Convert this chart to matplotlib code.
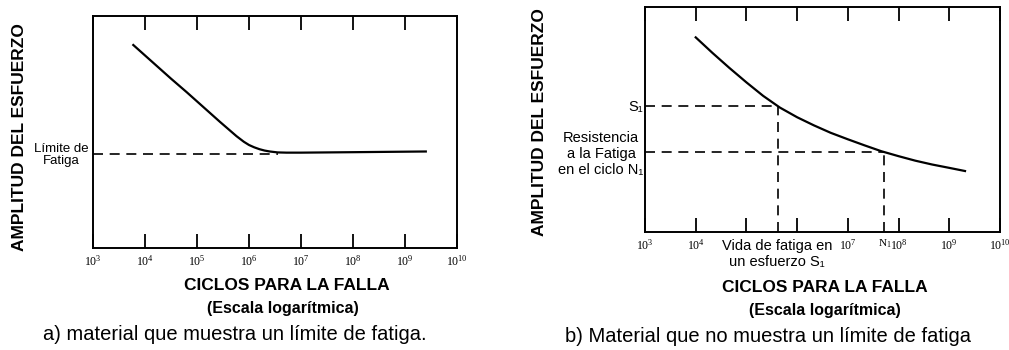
import matplotlib
matplotlib.use("Agg")
import matplotlib.pyplot as plt
import numpy as np

plt.rcParams['font.family'] = ['Liberation Sans', 'DejaVu Sans']
plt.rcParams['mathtext.fontset'] = 'custom'
plt.rcParams['mathtext.rm'] = 'Liberation Serif'
plt.rcParams['mathtext.it'] = 'Liberation Serif:italic'

# a) curve with an endurance limit (log10 cycles, relative stress amplitude)
a_logN = [3.775, 4.16, 4.5, 4.8, 5.1, 5.44, 5.6, 5.76, 5.9, 6.0, 6.1, 6.2,
          6.3, 6.4, 6.55, 6.72, 7.0, 8.0, 9.4]
a_amp = [0.875, 0.798, 0.730, 0.672, 0.612, 0.544, 0.513, 0.482, 0.458, 0.444,
         0.434, 0.426, 0.420, 0.416, 0.412, 0.411, 0.411, 0.413, 0.416]
a_limit = 0.405
a_limit_end = 6.55

# b) curve without an endurance limit
b_logN = [4.00, 4.33, 4.66, 5.00, 5.33, 5.66, 6.00, 6.33, 6.66, 7.00, 7.33,
          7.66, 8.00, 8.33, 8.66, 9.00, 9.31]
b_amp = [0.865, 0.796, 0.730, 0.665, 0.605, 0.553, 0.510, 0.474, 0.441, 0.412,
         0.385, 0.359, 0.337, 0.317, 0.300, 0.285, 0.271]
S1_logN, S1 = 5.62, 0.559
N1_logN, N1_amp = 7.72, 0.355

decades = np.arange(3, 11)
a_ticklabels = [r'$\mathrm{10^{%d}}$' % d for d in decades]
b_ticklabels = [r'$\mathrm{10^{3}}$', r'$\mathrm{10^{4}}$', '', '',
                r'$\mathrm{10^{7}}$', r'$\mathrm{10^{8}}$', r'$\mathrm{10^{9}}$',
                r'$\mathrm{10^{10}}$']
N1_ticklabel = r'$\mathrm{N_{1}}$'

W, H = 1009, 350
fig = plt.figure(figsize=(W / 100, H / 100), dpi=100)


def px_axes(x0, x1, ytop, ybot):
    return fig.add_axes([x0 / W, (H - ybot) / H, (x1 - x0) / W, (ybot - ytop) / H])


def frame(ax):
    ax.set_xscale('log')
    ax.set_xlim(1e3, 1e10)
    ax.set_ylim(0, 1)
    ax.set_yticks([])
    for s in ax.spines.values():
        s.set_linewidth(1.4)
    # inward decade ticks on top and bottom
    ax.tick_params(axis='x', which='major', direction='in', length=10, width=1.3,
                   top=True, bottom=True, pad=4, labelsize=8.5)
    ax.tick_params(axis='x', which='minor', length=0, top=False, pad=4, labelsize=8)


lab_kw = dict(fontsize=12.5, fontweight='bold')
dash = dict(color='black', lw=1.2, dashes=(6, 4))

# ---- panel a ----
ax1 = px_axes(93, 457, 16, 248)
frame(ax1)
ax1.set_xticks(10.0 ** decades, labels=a_ticklabels)
ax1.set_xticks([], minor=True)
ax1.plot(10 ** np.array(a_logN), a_amp, color='black', lw=1.6)
ax1.plot([1e3, 10 ** a_limit_end], [a_limit, a_limit], **dash)
fig.text(61 / W, 1 - 155 / H, 'Límite de\nFatiga', ha='center', va='center',
         fontsize=9.5, linespacing=1.1)
fig.text(20 / W, 1 - 137 / H, 'AMPLITUD DEL ESFUERZO', rotation=90,
         ha='center', va='center', **lab_kw)
fig.text(287 / W, 1 - 285 / H, 'CICLOS PARA LA FALLA', ha='center', va='center', **lab_kw)
fig.text(283 / W, 1 - 308 / H, '(Escala logarítmica)', ha='center', va='center',
         fontsize=11.5, fontweight='bold')
fig.text(235 / W, 1 - 334 / H, 'a) material que muestra un límite de fatiga.',
         ha='center', va='center', fontsize=14.5)

# ---- panel b ----
ax2 = px_axes(645, 1000, 7, 232)
frame(ax2)
ax2.set_xticks(10.0 ** decades, labels=b_ticklabels)
ax2.set_xticks([10 ** N1_logN], labels=[N1_ticklabel], minor=True)
ax2.plot(10 ** np.array(b_logN), b_amp, color='black', lw=1.6)
ax2.plot([1e3, 10 ** S1_logN], [S1, S1], **dash)
ax2.plot([10 ** S1_logN, 10 ** S1_logN], [0, S1], **dash)
ax2.plot([1e3, 10 ** N1_logN], [N1_amp, N1_amp], **dash)
ax2.plot([10 ** N1_logN, 10 ** N1_logN], [0, N1_amp], **dash)

fig.text(636 / W, 1 - 107 / H, 'S₁', ha='center', va='center', fontsize=10.5)
fig.text(601 / W, 1 - 154 / H, 'Resistencia\na la Fatiga\nen el ciclo N₁',
         ha='center', va='center', fontsize=10.5, linespacing=1.2)
fig.text(777 / W, 1 - 254 / H, 'Vida de fatiga en\nun esfuerzo S₁',
         ha='center', va='center', fontsize=10.5, linespacing=1.2)
fig.text(540 / W, 1 - 122 / H, 'AMPLITUD DEL ESFUERZO', rotation=90,
         ha='center', va='center', **lab_kw)
fig.text(825 / W, 1 - 288 / H, 'CICLOS PARA LA FALLA', ha='center', va='center', **lab_kw)
fig.text(825 / W, 1 - 311 / H, '(Escala logarítmica)', ha='center', va='center',
         fontsize=11.5, fontweight='bold')
fig.text(768 / W, 1 - 337 / H, 'b) Material que no muestra un límite de fatiga',
         ha='center', va='center', fontsize=14.5)

fig.savefig('out.png', dpi=100, facecolor='white')
